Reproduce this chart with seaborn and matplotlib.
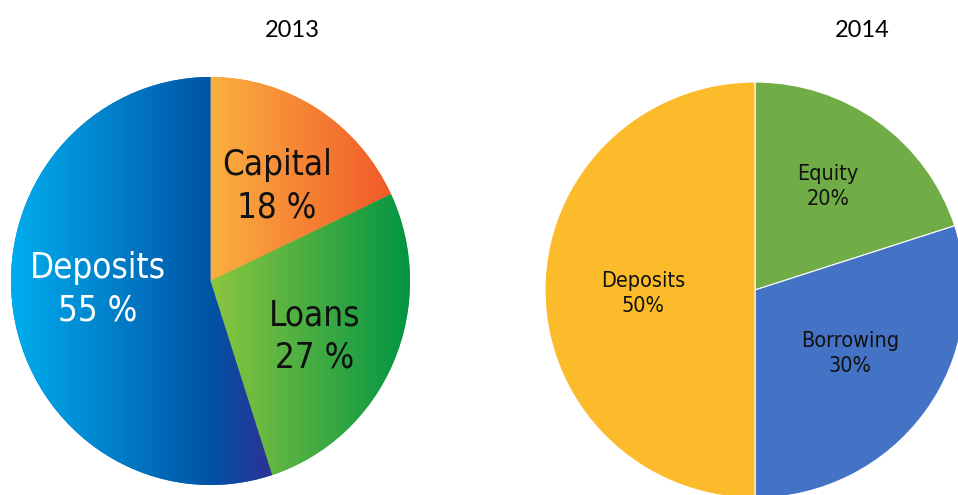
import numpy as np
import matplotlib
matplotlib.use("Agg")
import matplotlib.pyplot as plt
from matplotlib import font_manager as fm
from matplotlib.colors import LinearSegmentedColormap
import seaborn as sns

# ---- data -------------------------------------------------------------
years = ["2013", "2014"]

labels_2013 = ["Capital", "Loans", "Deposits"]
shares_2013 = [18, 27, 55]

labels_2014 = ["Equity", "Borrowing", "Deposits"]
shares_2014 = [20, 30, 50]

# ---- styling ----------------------------------------------------------
sns.set_theme(style="white")
plt.rcParams["font.family"] = ["DejaVu Sans"]


def narrow_font():
    """Pick a regular-weight condensed face from what is installed."""
    prefs = ["notosans-extracondensed.", "liberationsansnarrow-regular",
             "notosans-condensed.", "dejavusanscondensed.", "condensed", "narrow"]
    files = [f.fname for f in fm.fontManager.ttflist]
    for key in prefs:
        for p in files:
            low = p.lower().replace("\\", "/").split("/")[-1]
            if key in low and not any(b in low for b in
                                      ("bold", "italic", "oblique", "light", "thin",
                                       "black", "medium", "semi")):
                return fm.FontProperties(fname=p)
    return fm.FontProperties(family="DejaVu Sans", stretch="condensed")


NARROW = narrow_font()

W, H = 958, 495
fig = plt.figure(figsize=(W / 100, H / 100), dpi=100)
fig.patch.set_facecolor("white")


def px_axes(x0, y0, x1, y1):
    """Axes whose box spans the pixel rectangle (x0, y0)-(x1, y1), top-left origin."""
    return fig.add_axes([x0 / W, (H - y1) / H, (x1 - x0) / W, (y1 - y0) / H])


# horizontal gradients for the 2013 slices: (stops, colours)
grad_2013 = [
    ([0.0, 1.0], ["#FBB040", "#F15A29"]),                  # Capital
    ([0.0, 1.0], ["#8DC63F", "#009444"]),                  # Loans
    ([0.0, 0.76, 1.0], ["#00AEEF", "#0054A6", "#2E3192"]),  # Deposits
]

# ---- 2013 pie (gradient fills) ----------------------------------------
ax1 = px_axes(11, 77, 410, 485)
wedges1, _ = ax1.pie(shares_2013, startangle=90, counterclock=False, radius=1,
                     colors=["#F7941D", "#39B54A", "#0072BC"],
                     wedgeprops=dict(linewidth=0))
ax1.set_aspect("auto")
ax1.set_xlim(-1, 1)
ax1.set_ylim(-1, 1)

for wedge, (stops, cols) in zip(wedges1, grad_2013):
    path = wedge.get_path().transformed(wedge.get_patch_transform())
    xs = path.vertices[:, 0]
    x0, x1 = xs.min(), xs.max()
    cmap = LinearSegmentedColormap.from_list("g", list(zip(stops, cols)))
    grad = np.linspace(0, 1, 256).reshape(1, -1)
    im = ax1.imshow(grad, cmap=cmap, aspect="auto", extent=[x0, x1, -1, 1],
                    interpolation="bilinear", zorder=2)
    im.set_clip_path(wedge)
ax1.set_xlim(-1, 1)
ax1.set_ylim(-1, 1)
ax1.axis("off")

# label anchors (name baseline) in pie-radius units
pos_2013 = [(0.333, 0.52), (0.524, -0.216), (-0.564, 0.015)]
txt_2013 = ["#111111", "#111111", "white"]
for name, val, (x, y), c in zip(labels_2013, shares_2013, pos_2013, txt_2013):
    ax1.text(x, y, name, ha="center", va="baseline", fontproperties=NARROW,
             fontsize=25, color=c, zorder=5)
    ax1.text(x, y - 0.21, f"{val} %", ha="center", va="baseline",
             fontproperties=NARROW, fontsize=25, color=c, zorder=5)

# ---- 2014 pie (flat fills) --------------------------------------------
ax2 = px_axes(545, 82, 965, 498)
colors_2014 = ["#70AD47", "#4472C4", "#FBBB2B"]
ax2.pie(shares_2014, startangle=90, counterclock=False, radius=1,
        colors=colors_2014, wedgeprops=dict(linewidth=0.8, edgecolor="white"))
ax2.set_aspect("auto")
ax2.set_xlim(-1, 1)
ax2.set_ylim(-1, 1)
ax2.axis("off")

pos_2014 = [(0.348, 0.529), (0.452, -0.274), (-0.533, 0.014)]
for name, val, (x, y) in zip(labels_2014, shares_2014, pos_2014):
    ax2.text(x, y, name, ha="center", va="baseline", fontproperties=NARROW,
             fontsize=15.5, color="#111111")
    ax2.text(x, y - 0.12, f"{val}%", ha="center", va="baseline",
             fontproperties=NARROW, fontsize=15.5, color="#111111")

# ---- year titles --------------------------------------------------------
for yr, cx in zip(years, [292, 862]):
    fig.text(cx / W, 1 - 37 / H, yr, ha="center", va="baseline", fontsize=17,
             color="black", family=["Lato", "DejaVu Sans"])

fig.savefig("out.png", dpi=100, facecolor="white")
